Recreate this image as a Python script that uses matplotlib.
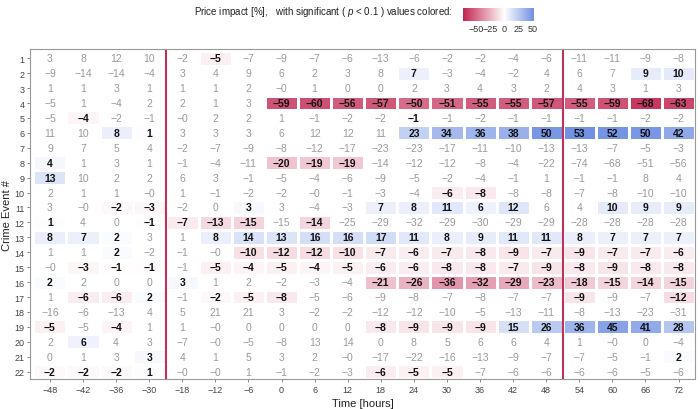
import numpy as np
import matplotlib

matplotlib.use("Agg")
import matplotlib.pyplot as plt
from matplotlib.colors import LinearSegmentedColormap, Normalize

plt.rcParams["font.family"] = ["Liberation Sans", "DejaVu Sans"]
plt.rcParams["mathtext.fontset"] = "custom"
plt.rcParams["mathtext.rm"] = "Liberation Sans"
plt.rcParams["mathtext.it"] = "Liberation Sans:italic"

# hours relative to the event (no -24 column in the source)
times = [-48, -42, -36, -30, -18, -12, -6, 0, 6, 12, 18, 24, 30, 36, 42, 48, 54, 60, 66, 72]
events = list(range(1, 23))

# price impact in %, one row per crime event (-0.2 / 0.2 used for cells shown as "-0")
impact = [
    [3, 8, 12, 10, -2, -5, -7, -9, -7, -6, -13, -6, -2, -2, -4, -6, -11, -11, -9, -8],
    [-9, -14, -14, -4, 3, 4, 9, 6, 2, 3, 8, 7, -3, -4, -2, 4, 6, 7, 9, 10],
    [1, 1, 3, 1, 1, 1, 2, -0.2, 1, 0, 0, 2, 3, 4, 3, 2, 4, 3, 1, 3],
    [-5, 1, -4, 2, 2, 1, 3, -59, -60, -56, -57, -50, -51, -55, -55, -57, -55, -59, -68, -63],
    [-5, -4, -2, -1, -0.2, 2, 2, 1, -1, -2, -2, -1, -1, -2, -1, -1, -1, -1, -2, -2],
    [11, 10, 8, 1, 3, 3, 3, 6, 12, 12, 11, 23, 34, 36, 38, 50, 53, 52, 50, 42],
    [9, 7, 5, 4, -2, -7, -9, -8, -12, -17, -23, -23, -17, -11, -10, -13, -13, -7, -5, -3],
    [4, 1, 3, 1, -1, -4, -11, -20, -19, -19, -14, -12, -12, -8, -4, -22, -74, -68, -51, -56],
    [13, 10, 2, 2, 6, 3, -1, -5, -4, -6, -9, -5, -2, -4, -1, 1, -1, -1, 8, 4],
    [2, 1, 1, -0.2, 1, -1, -2, -2, -0.2, -1, -3, -4, -6, -8, -8, -8, -7, -8, -10, -10],
    [3, -0.2, -2, -3, -2, 0, 3, 3, -4, -3, 7, 8, 11, 6, 12, 6, 4, 10, 9, 9],
    [1, 4, 0, -1, -7, -13, -15, -15, -14, -25, -29, -32, -29, -30, -29, -29, -28, -28, -28, -28],
    [8, 7, 2, 3, 1, 8, 14, 13, 16, 16, 17, 11, 8, 9, 11, 11, 8, 7, 7, 7],
    [1, 1, 2, -2, -1, -0.2, -10, -12, -12, -10, -7, -6, -7, -8, -9, -7, -9, -7, -7, -6],
    [-0.2, -3, -1, -1, -1, -5, -4, -5, -4, -5, -6, -6, -8, -8, -7, -9, -8, -9, -8, -8],
    [2, 2, 0, 0, 3, 1, 2, -2, -3, -4, -21, -26, -36, -32, -29, -23, -18, -15, -14, -15],
    [1, -6, -6, 2, -1, -2, -5, -8, -5, -6, -9, -8, -7, -8, -7, -7, -9, -9, -7, -12],
    [-16, -6, -13, 4, 5, 21, 21, 3, -2, -2, -12, -12, -10, -5, -13, -11, -8, -13, -23, -31],
    [-5, -5, -4, 1, 1, -0.2, 0, 0, 0, 0, -8, -9, -9, -9, 15, 26, 36, 45, 41, 28],
    [2, 6, 4, 3, -7, -0.2, -5, -8, 13, 14, 0, 8, 5, 6, 6, 4, 1, -0.2, 0, -4],
    [0, 1, 3, 3, 4, 1, 5, 3, 2, -0.2, -17, -22, -16, -13, -9, -7, -7, -5, -1, 2],
    [-2, -2, -2, 1, -0.2, -0.2, 1, -1, -2, -3, -6, -5, -5, -7, -6, -6, -6, -6, -5, -6],
]

# 1 = significant at p < 0.1
significant = [
    [0, 0, 0, 0, 0, 1, 0, 0, 0, 0, 0, 0, 0, 0, 0, 0, 0, 0, 0, 0],
    [0, 0, 0, 0, 0, 0, 0, 0, 0, 0, 0, 1, 0, 0, 0, 0, 0, 0, 1, 1],
    [0, 0, 0, 0, 0, 0, 0, 0, 0, 0, 0, 0, 0, 0, 0, 0, 0, 0, 0, 0],
    [0, 0, 0, 0, 0, 0, 0, 1, 1, 1, 1, 1, 1, 1, 1, 1, 1, 1, 1, 1],
    [0, 1, 0, 0, 0, 0, 0, 0, 0, 0, 0, 1, 0, 0, 0, 0, 0, 0, 0, 0],
    [0, 0, 1, 1, 0, 0, 0, 0, 0, 0, 0, 1, 1, 1, 1, 1, 1, 1, 1, 1],
    [0, 0, 0, 0, 0, 0, 0, 0, 0, 0, 0, 0, 0, 0, 0, 0, 0, 0, 0, 0],
    [1, 0, 0, 0, 0, 0, 0, 1, 1, 1, 0, 0, 0, 0, 0, 0, 0, 0, 0, 0],
    [1, 0, 0, 0, 0, 0, 0, 0, 0, 0, 0, 0, 0, 0, 0, 0, 0, 0, 0, 0],
    [0, 0, 0, 0, 0, 0, 0, 0, 0, 0, 0, 0, 1, 1, 0, 0, 0, 0, 0, 0],
    [0, 0, 1, 1, 0, 0, 1, 0, 0, 0, 1, 1, 1, 1, 1, 0, 0, 1, 1, 1],
    [1, 0, 0, 1, 1, 1, 1, 0, 1, 0, 0, 0, 0, 0, 0, 0, 0, 0, 0, 0],
    [1, 1, 1, 0, 0, 1, 1, 1, 1, 1, 1, 1, 1, 1, 1, 1, 1, 1, 1, 1],
    [0, 0, 1, 0, 0, 0, 1, 1, 1, 1, 1, 1, 1, 1, 1, 1, 1, 1, 1, 1],
    [0, 1, 1, 1, 0, 1, 1, 1, 1, 1, 1, 1, 1, 1, 1, 1, 1, 1, 1, 1],
    [1, 0, 0, 0, 1, 0, 0, 0, 0, 0, 1, 1, 1, 1, 1, 1, 1, 1, 1, 1],
    [0, 1, 1, 1, 0, 1, 1, 1, 0, 0, 0, 0, 0, 0, 0, 0, 1, 0, 0, 1],
    [0, 0, 0, 0, 0, 0, 0, 0, 0, 0, 0, 0, 0, 0, 0, 0, 0, 0, 0, 0],
    [1, 0, 1, 0, 0, 0, 0, 0, 0, 0, 1, 1, 1, 1, 1, 1, 1, 1, 1, 1],
    [0, 1, 0, 0, 0, 0, 0, 0, 0, 0, 0, 0, 0, 0, 0, 0, 0, 0, 0, 0],
    [0, 0, 0, 1, 0, 0, 0, 0, 0, 0, 0, 0, 0, 0, 0, 0, 0, 0, 0, 1],
    [1, 1, 1, 1, 0, 0, 0, 0, 0, 0, 1, 1, 1, 0, 0, 0, 0, 0, 0, 0],
]

# boundaries drawn as red lines: after hour -30 and after hour 48
split_after = [-30, 48]

vals = np.array(impact, dtype=float)
sig = np.array(significant, dtype=bool)

cmap = LinearSegmentedColormap.from_list("impact", ["#c32651", "#ffffff", "#3a66d8"])
lim = np.abs(vals).max()
norm = Normalize(-lim, lim)

fig = plt.figure(figsize=(7, 4.1), dpi=100)
ax = fig.add_axes([0.043, 0.073, 0.950, 0.805])

ncol, nrow = len(times), len(events)
xe = np.arange(ncol + 1) - 0.5
ye = np.arange(nrow + 1) - 0.5
ax.pcolormesh(xe, ye, np.ma.masked_where(~sig, vals), cmap=cmap, norm=norm,
              edgecolors="white", linewidth=1.0)

for r in range(nrow):
    for c in range(ncol):
        txt = f"{vals[r, c]:.0f}".replace("-", "\u2212")
        if sig[r, c]:
            ax.text(c, r, txt, ha="center", va="center", fontsize=7.5,
                    fontweight="bold", color="#111111")
        else:
            ax.text(c, r, txt, ha="center", va="center", fontsize=7.5,
                    color="#9a9a9a")

for t in split_after:
    ax.axvline(times.index(t) + 0.5, color="#c0305a", linewidth=1.5)

ax.set_xlim(-0.6, ncol - 0.5)
ax.set_ylim(nrow - 0.5, -0.62)
ax.set_xticks(range(ncol))
ax.set_xticklabels([str(t).replace("-", "\u2212") for t in times])
ax.set_yticks(range(nrow))
ax.set_yticklabels([str(e) for e in events])
ax.tick_params(length=2.5, width=0.6, color="#777777", labelsize=6.5,
               labelcolor="#444444", pad=1.5)
for s in ax.spines.values():
    s.set_color("#999999")
    s.set_linewidth(0.8)
ax.set_xlabel("Time [hours]", fontsize=8, color="#222222", labelpad=3)
ax.set_ylabel("Crime Event #", fontsize=8, color="#222222", labelpad=2)

# legend: title text + colour bar spanning the data range
fig.text(453 / 700, 1 - 12 / 410,
         "Price impact [%],   with significant ( $p$ < 0.1 ) values colored:",
         ha="right", va="center", fontsize=7, color="#222222")
cax = fig.add_axes([463 / 700, 1 - 22 / 410, 71 / 700, 13 / 410])
grad = np.linspace(vals.min(), vals.max(), 256)
cax.imshow(grad[None, :], aspect="auto", cmap=cmap, norm=norm,
           extent=[vals.min(), vals.max(), 0, 1])
cax.set_yticks([])
cax.set_xticks([-50, -25, 0, 25, 50])
cax.set_xticklabels(["\u221250", "\u221225", "0", "25", "50"])
cax.tick_params(length=0, labelsize=6.5, labelcolor="#333333", pad=2)
for s in cax.spines.values():
    s.set_visible(False)

fig.savefig("out.png", dpi=100)
